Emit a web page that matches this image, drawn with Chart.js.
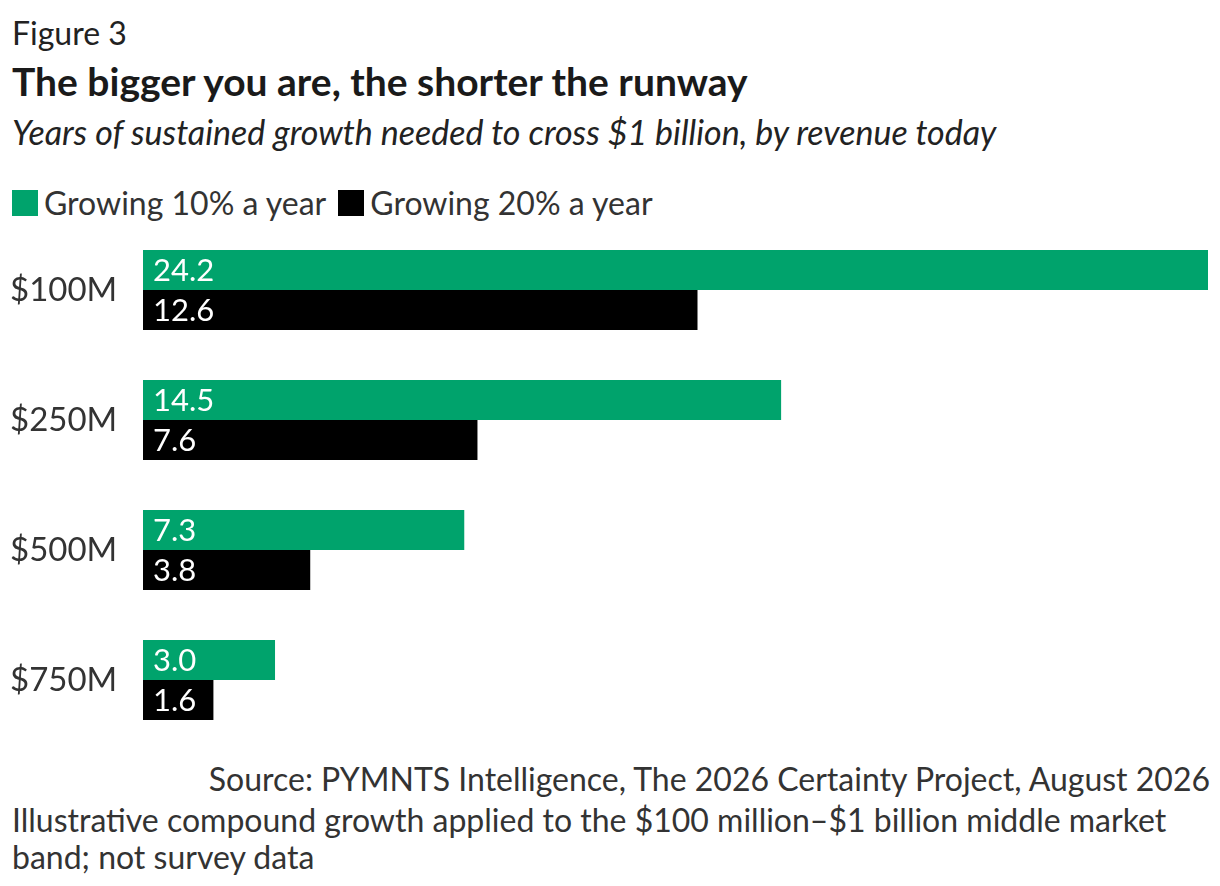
<!DOCTYPE html>
<html>
<head>
<meta charset="utf-8">
<script src="https://cdn.jsdelivr.net/npm/chart.js@4"></script>
<style>
  body { margin: 0; width: 1220px; height: 886px; font-family: Lato, sans-serif; color: #222; background: #fff; position: relative; overflow: hidden; }
  .fig { position: absolute; left: 12px; top: 13px; font-size: 32px; }
  .title { position: absolute; left: 12px; top: 58px; font-size: 39px; font-weight: bold; color: #1a1a1a; }
  .sub { position: absolute; left: 12px; top: 111px; font-size: 34px; font-style: italic; }
  .legend { position: absolute; left: 12px; top: 183px; font-size: 32px; color: #333; display: flex; align-items: center; }
  .legend span.sw { display: inline-block; width: 26px; height: 26px; margin-right: 6px; }
  .legend span.item { display: flex; align-items: center; margin-right: 12px; }
  #wrap { position: absolute; left: 0; top: 225px; width: 1220px; height: 520px; }
  .src { position: absolute; right: 10px; top: 759px; font-size: 32px; color: #333; }
  .note { position: absolute; left: 12px; top: 801px; width: 1170px; font-size: 32px; color: #333; line-height: 37px; }
</style>
</head>
<body>
<div class="fig">Figure 3</div>
<div class="title">The bigger you are, the shorter the runway</div>
<div class="sub">Years of sustained growth needed to cross $1 billion, by revenue today</div>
<div class="legend">
  <span class="item"><span class="sw" style="background:#00a36c"></span>Growing 10% a year</span>
  <span class="item"><span class="sw" style="background:#000"></span>Growing 20% a year</span>
</div>
<div id="wrap"><canvas id="grafico"></canvas></div>
<div class="src">Source: PYMNTS Intelligence, The 2026 Certainty Project, August 2026</div>
<div class="note">Illustrative compound growth applied to the $100 million–$1 billion middle market band; not survey data</div>
<script>
const categorias = ["$100M", "$250M", "$500M", "$750M"]
const crece10 = [24.2, 14.5, 7.3, 3.0]
const crece20 = [12.6, 7.6, 3.8, 1.6]

const etiquetas = {
  id: "etiquetas",
  afterDatasetsDraw(chart) {
    const ctx = chart.ctx
    ctx.save()
    ctx.fillStyle = "#fff"
    ctx.font = "31px Lato"
    ctx.textBaseline = "middle"
    chart.data.datasets.forEach((ds, i) => {
      chart.getDatasetMeta(i).data.forEach((bar, j) => {
        ctx.fillText(ds.data[j].toFixed(1), bar.base + 10, bar.y + 1)
      })
    })
    ctx.restore()
  }
}

new Chart(document.getElementById("grafico"), {
  type: "bar",
  data: {
    labels: categorias,
    datasets: [
      { label: "Growing 10% a year", data: crece10, backgroundColor: "#00a36c", categoryPercentage: 80 / 130, barPercentage: 1 },
      { label: "Growing 20% a year", data: crece20, backgroundColor: "#000", categoryPercentage: 80 / 130, barPercentage: 1 }
    ]
  },
  options: {
    indexAxis: "y",
    responsive: true,
    maintainAspectRatio: false,
    animation: false,
    layout: { padding: { left: 10, right: 12, top: 0, bottom: 0 } },
    plugins: { legend: { display: false }, tooltip: { enabled: false } },
    scales: {
      x: { min: 0, max: 24.2, display: false },
      y: {
        grid: { display: false },
        border: { display: false },
        ticks: { color: "#333", font: { family: "Lato", size: 33 }, crossAlign: "far", padding: 0 },
        afterFit: (s) => { s.width = 133; s.paddingTop = 0; s.paddingBottom = 0 }
      }
    }
  },
  plugins: [etiquetas]
})
</script>
</body>
</html>
